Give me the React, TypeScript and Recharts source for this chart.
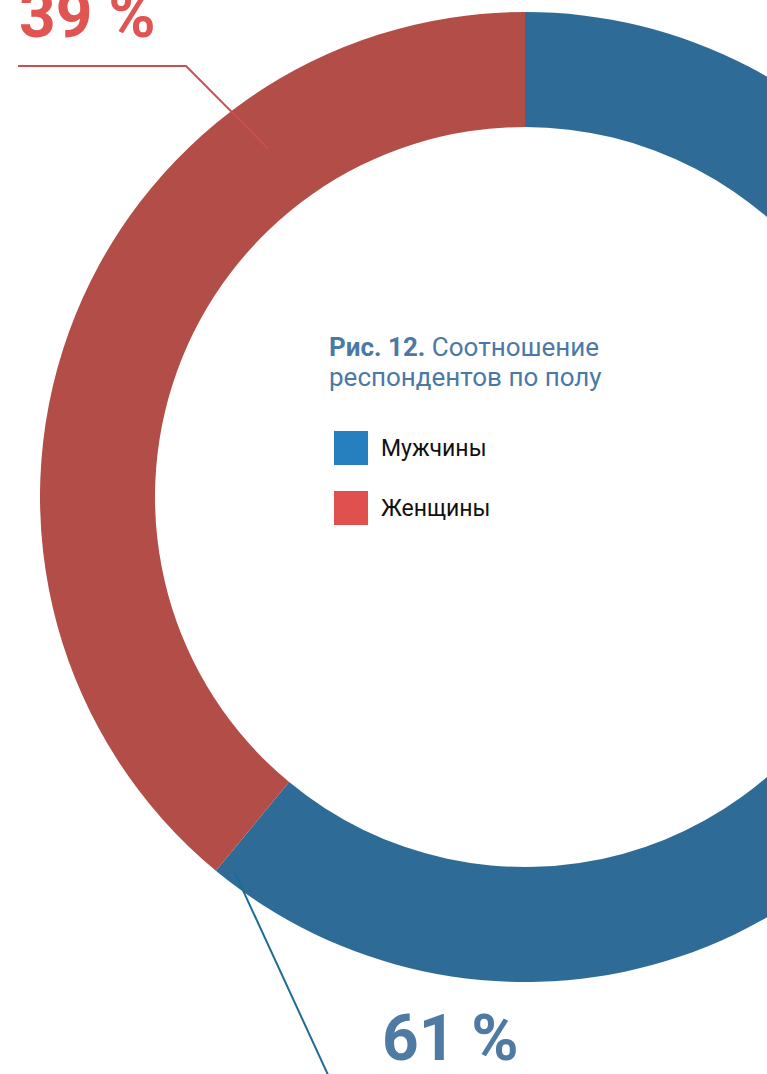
import { PieChart, Pie, Cell, Legend } from 'recharts'

const categories = ['Мужчины', 'Женщины']
const shares = [61, 39]
const sliceColors = ['#2E6B96', '#B34D48']
const legendColors = ['#2680C0', '#DF504E']
const labelColors = ['#4F7AA3', '#E05452']
const lineColors = ['#1F6A96', '#C9504E']

const data = categories.map((name, i) => ({ name, value: shares[i] }))

const W = 767
const H = 1074
const CX = 525
const CY = 497

function PctLabel(props: any) {
  const { cx, cy, index, value } = props
  const rad = Math.PI / 180
  if (index === 1) {
    // anchor inside the ring, elbow up-left, then straight to the left
    const ax = cx + 433 * Math.cos(126.4 * rad)
    const ay = cy - 433 * Math.sin(126.4 * rad)
    const ex = cx - 339
    const ey = cy - 431
    return (
      <g>
        <polyline points={`${ax},${ay} ${ex},${ey} ${cx - 507},${ey}`} fill="none" stroke={lineColors[1]} strokeWidth={2} />
        <text x={cx - 506} y={cy - 460} fill={labelColors[1]} fontSize={64} fontWeight={700} fontFamily="Roboto">
          {value} %
        </text>
      </g>
    )
  }
  const ax = cx + 475 * Math.cos(232.4 * rad)
  const ay = cy - 475 * Math.sin(232.4 * rad)
  return (
    <g>
      <line x1={ax} y1={ay} x2={cx - 196} y2={cy + 580} stroke={lineColors[0]} strokeWidth={2} />
      <text x={cx - 143} y={cy + 563} fill={labelColors[0]} fontSize={64} fontWeight={700} fontFamily="Roboto">
        {value} %
      </text>
    </g>
  )
}

function LegendBox() {
  return (
    <div style={{ fontFamily: 'Roboto', width: 320 }}>
      <div style={{ color: '#4A79A6', fontSize: 26, lineHeight: '30px', marginLeft: -5 }}>
        <b>Рис. 12.</b> Соотношение<br />респондентов по полу
      </div>
      <div style={{ marginTop: 39 }}>
        {categories.map((c, i) => (
          <div key={c} style={{ display: 'flex', alignItems: 'center', height: 34, marginBottom: 26 }}>
            <div style={{ width: 34, height: 34, background: legendColors[i] }} />
            <span style={{ marginLeft: 13, fontSize: 23, color: '#111' }}>{c}</span>
          </div>
        ))}
      </div>
    </div>
  )
}

export default function App() {
  return (
    <div style={{ position: 'absolute', left: 0, top: 0, width: W, height: H, overflow: 'hidden', background: '#fff' }}>
      <PieChart width={W} height={H} margin={{ top: 0, right: 0, bottom: 0, left: 0 }}>
        <Pie
          data={data}
          dataKey="value"
          nameKey="name"
          cx={CX}
          cy={CY}
          innerRadius={370}
          outerRadius={485}
          startAngle={90}
          endAngle={-270}
          stroke="none"
          label={PctLabel}
          labelLine={false}
          isAnimationActive={false}
        >
          {data.map((d, i) => (
            <Cell key={d.name} fill={sliceColors[i]} />
          ))}
        </Pie>
        <Legend
          content={() => <LegendBox />}
          wrapperStyle={{ position: 'absolute', left: 334, top: 332, width: 320 }}
        />
      </PieChart>
    </div>
  )
}
